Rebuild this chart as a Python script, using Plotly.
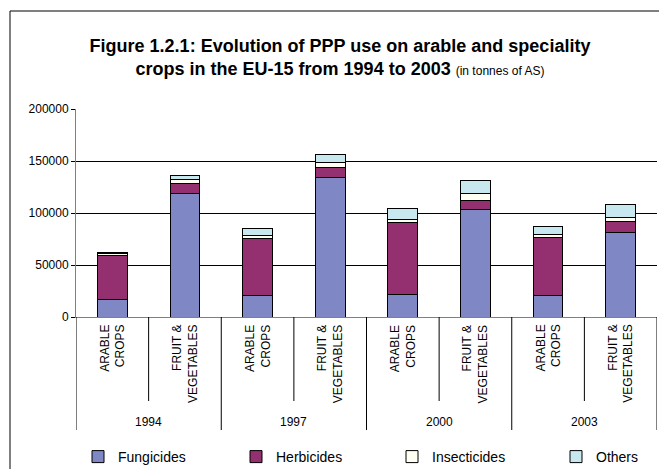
import plotly.graph_objects as go

# ---- data ----
years = ["1994", "1997", "2000", "2003"]
crop_labels = ["ARABLE<br>CROPS", "FRUIT &<br>VEGETABLES"]
series_names = ["Fungicides", "Herbicides", "Insecticides", "Others"]
fungicides = [17000, 118800, 20800, 134200, 21400, 103800, 20500, 81700]
herbicides = [42600, 9400, 54500, 10000, 69900, 8300, 55500, 9900]
insecticides = [1800, 3600, 2900, 3900, 2900, 6700, 3400, 4500]
others = [1000, 4100, 7000, 8600, 9900, 12500, 8100, 12500]
y_ticks = [0, 50000, 100000, 150000, 200000]

colors = ["#7F88C4", "#94306F", "#FFFFF2", "#C8E8F0"]
FONT = "Liberation Sans, Arial, sans-serif"

W, H = 659, 469
L, R, T, B = 76, 2, 109, 152
plot_h = H - T - B
plot_w = W - L - R


def py(p):
    """pixel y -> paper y"""
    return (H - B - p) / plot_h


def px(p):
    return (p - L) / plot_w


n = len(years) * len(crop_labels)
xs = list(range(n))

legend_ids = ["legend", "legend2", "legend3", "legend4"]
legend_x_px = [78, 236, 392, 556]

fig = go.Figure()
for name, vals, col, lid in zip(series_names, [fungicides, herbicides, insecticides, others],
                                colors, legend_ids):
    fig.add_trace(go.Bar(
        x=xs, y=vals, name=name, width=0.41, legend=lid,
        marker=dict(color=col, line=dict(color="#000000", width=1)),
    ))

shapes = []
# outer frame
shapes.append(dict(type="rect", xref="paper", yref="paper",
                   x0=px(10), x1=px(720), y0=py(520), y1=py(11),
                   line=dict(color="#000000", width=1), fillcolor="rgba(0,0,0,0)", layer="below"))
# category dividers
for i in range(n + 1):
    xpos = i - 0.5
    long_line = (i % 2 == 0)
    shapes.append(dict(type="line", xref="x", yref="paper",
                       x0=xpos, x1=xpos, y0=0, y1=py(430) if long_line else py(401),
                       line=dict(color="#000000", width=1)))

annotations = []
for i in xs:
    annotations.append(dict(x=i, y=py(323), xref="x", yref="paper",
                            text=crop_labels[i % 2], textangle=-90, showarrow=False,
                            xanchor="center", yanchor="top", align="right",
                            font=dict(family=FONT, size=12, color="#000000")))
for g, yr in enumerate(years):
    annotations.append(dict(x=2 * g + 0.5, y=py(422), xref="x", yref="paper",
                            text=yr, showarrow=False, xanchor="center", yanchor="middle",
                            font=dict(family=FONT, size=12, color="#000000")))

title_text = ("<b>Figure 1.2.1: Evolution of PPP use on arable and speciality</b><br>"
              "<b>crops in the EU-15 from 1994 to 2003</b> "
              "<span style=\"font-size:12px\">(in tonnes of AS)</span>")

legend_layout = {}
for lid, lx in zip(legend_ids, legend_x_px):
    legend_layout[lid] = dict(orientation="h", x=px(lx), xanchor="left",
                              y=py(457), yanchor="middle",
                              font=dict(family=FONT, size=14, color="#000000"),
                              bgcolor="rgba(0,0,0,0)")

fig.update_layout(
    width=W, height=H, autosize=False,
    margin=dict(l=L, r=R, t=T, b=B, pad=0, autoexpand=False),
    paper_bgcolor="#FFFFFF", plot_bgcolor="#FFFFFF",
    barmode="stack",
    showlegend=True,
    font=dict(family=FONT, size=12, color="#000000"),
    title=dict(text=title_text, x=340 / W, xanchor="center", xref="container",
               y=1 - 52 / H, yanchor="top", yref="container",
               font=dict(family=FONT, size=18, color="#000000")),
    xaxis=dict(range=[-0.5, n - 0.5], showticklabels=False, ticks="",
               showgrid=False, showline=True, linecolor="#808080", linewidth=1,
               zeroline=False, fixedrange=True, automargin=False),
    yaxis=dict(range=[0, 200000], tickvals=y_ticks, tickformat="d",
               showgrid=True, gridcolor="#000000", gridwidth=1,
               ticks="outside", ticklen=4, tickcolor="#000000",
               showline=True, linecolor="#808080", linewidth=1, automargin=False,
               zeroline=False, tickfont=dict(family=FONT, size=12, color="#000000")),
    shapes=shapes,
    annotations=annotations,
    **legend_layout,
)

fig.write_html(
    "out.html",
    config={"displayModeBar": False},
    post_script="document.body.style.margin='0';document.body.style.overflow='hidden';",
)
